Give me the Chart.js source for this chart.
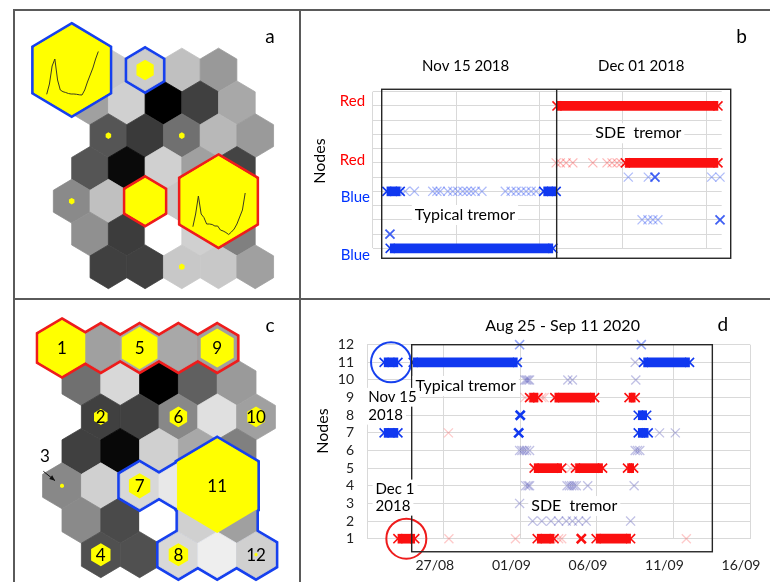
<!DOCTYPE html>
<html lang="en">
<head>
<meta charset="utf-8">
<title>SOM nodes of tremor spectra</title>
<script src="https://cdn.jsdelivr.net/npm/chart.js@4.4.1/dist/chart.umd.min.js"></script>
<style>
  html, body { margin: 0; padding: 0; background: #fff; }
  body { position: relative; width: 770px; height: 582px; overflow: hidden; }
  canvas { position: absolute; }
  .rule { position: absolute; background: #5a5a5a; }
</style>
</head>
<body>
<div class="rule" style="left:13px;top:9px;width:757px;height:2px"></div>
<div class="rule" style="left:13px;top:9px;width:2px;height:573px"></div>
<div class="rule" style="left:299px;top:9px;width:2px;height:573px"></div>
<div class="rule" style="left:13px;top:298px;width:757px;height:2px"></div>
<canvas id="somA" width="284" height="287" style="left:15px;top:11px"></canvas>
<canvas id="nodesB" width="469" height="287" style="left:301px;top:11px"></canvas>
<canvas id="somC" width="284" height="282" style="left:15px;top:300px"></canvas>
<canvas id="nodesD" width="471" height="282" style="left:301px;top:300px"></canvas>
<script>
const FONT = 'Lato, "Open Sans", sans-serif';
const YELLOW = '#ffff00', BLUE = '#1038f0', RED = '#fb0f0f', GRID = '#d9d9d9';
const OUTLINE_BLUE = '#1640ee', OUTLINE_RED = '#ee1c1c';

// ---------- SOM maps (panels a and c): 7 rows x 5 columns ----------
const rowShift = [0, 0.5, 1, 0.5, 0, 0.5, 1];   // row offsets, in cell widths

// grey level of every node (0 = black, 255 = white)
const aShade = [
  [200, 200, 204, 192, 153],
  [160, 208,   0,  64, 168],
  [ 85,  58, 112, 184, 154],
  [ 85,  10, 208, 160,  68],
  [138, 192, 200, 200, 170],
  [144,  60, 255, 208, 128],
  [ 64,  64, 200, 200, 160]
];
const cShade = [
  [170, 160, 170, 168, 160],
  [112, 216,   0,  96, 154],
  [ 64,  64, 136, 224, 160],
  [ 64,   8, 208, 168, 128],
  [136, 208, 216, 232, 180],
  [138,  74, 255, 208, 160],
  [ 80,  80, 216, 238, 208]
];

// hits per node: [row, col, relative hexagon size]
const aHits = [[0, 0, 2.05], [0, 2, 0.47], [2, 0, 0.15], [2, 2, 0.15], [4, 0, 0.15], [6, 2, 0.15], [4, 2, 1.05], [4, 4, 2.05]];
const cHits = [[0, 0, 1.2], [0, 2, 0.92], [0, 4, 0.85], [2, 0, 0.35], [2, 2, 0.45], [2, 4, 0.45], [4, 0, 0.1], [4, 2, 0.55], [4, 4, 2.05], [6, 0, 0.5], [6, 2, 0.5], [6, 4, 0.08]];

// outlined node sets: [row, col, relative size]
const aBlueNodes = [[0, 0, 2.05], [0, 2, 0.95]];
const aRedNodes = [[4, 2, 1.05], [4, 4, 2.05]];
const cRedNodes = [[0, 0, 1.2], [0, 1, 1], [0, 2, 1], [0, 3, 1], [0, 4, 1]];
const cBlueNodes = [[4, 2, 1], [4, 3, 1], [4, 4, 2.05], [5, 3, 1], [5, 4, 1], [6, 2, 1], [6, 3, 1], [6, 4, 1]];

// node numbers on map c: [row, col, name]
const cNodeNames = [[0, 0, '1'], [2, 0, '2'], [0, 2, '5'], [2, 2, '6'], [4, 2, '7'], [6, 2, '8'],
                    [0, 4, '9'], [2, 4, '10'], [4, 4, '11'], [6, 4, '12'], [6, 0, '4']];

// mean spectra of the two highlighted nodes (amplitude per frequency bin)
const blueSpectrum = [1.7, 12, 30, 37, 16, 6, 4.3, 3.5, 2.5, 2, 2, 1.7, 1.2, 1, 6, 14, 21, 28, 37, 44.5];
const redSpectrum = [9.3, 22, 40, 22, 18.5, 12, 12, 11.5, 10, 10, 6, 5, 3.5, 1.5, 4, 7, 12, 19, 26, 43];

function hexPath(ctx, cx, cy, W, S, k) {
  const hw = W / 2 * k, t = 2 * S / 3 * k, m = S / 3 * k;
  ctx.moveTo(cx, cy - t);
  ctx.lineTo(cx + hw, cy - m);
  ctx.lineTo(cx + hw, cy + m);
  ctx.lineTo(cx, cy + t);
  ctx.lineTo(cx - hw, cy + m);
  ctx.lineTo(cx - hw, cy - m);
  ctx.closePath();
}
const grey = g => `rgb(${g},${g},${g})`;

const somGrid = {
  id: 'somGrid',
  beforeDatasetsDraw(chart, args, o) {
    const { ctx } = chart, xs = chart.scales.x, ys = chart.scales.y;
    const W = xs.getPixelForValue(1) - xs.getPixelForValue(0);
    const S = ys.getPixelForValue(1) - ys.getPixelForValue(0);
    const at = (r, c) => [xs.getPixelForValue(rowShift[r] + c), ys.getPixelForValue(r)];
    const hex = (r, c, k) => { const [cx, cy] = at(r, c); ctx.beginPath(); hexPath(ctx, cx, cy, W, S, k); };
    ctx.save();
    ctx.lineJoin = 'miter';
    // map cells
    o.shade.forEach((row, r) => row.forEach((g, c) => {
      hex(r, c, 1);
      ctx.fillStyle = ctx.strokeStyle = grey(g);
      ctx.lineWidth = 0.8;
      ctx.fill(); ctx.stroke();
    }));
    // outlined node sets: wide stroke, then refill so only the outer border stays
    for (const grp of o.groups) {
      ctx.lineWidth = 2 * grp.width;
      ctx.strokeStyle = grp.color;
      grp.nodes.forEach(([r, c, k]) => { hex(r, c, k); ctx.stroke(); });
      grp.nodes.forEach(([r, c, k]) => {
        hex(r, c, k);
        ctx.fillStyle = ctx.strokeStyle = k > 1 ? YELLOW : grey(o.shade[r][c]);
        ctx.lineWidth = 0.8;
        ctx.fill(); ctx.stroke();
      });
    }
    // hit hexagons
    ctx.fillStyle = YELLOW;
    o.hits.forEach(([r, c, k]) => { hex(r, c, k); ctx.fill(); });
    // spectra inside nodes
    for (const sp of o.spectra || []) {
      const [cx, cy] = at(sp.node[0], sp.node[1]);
      const n = sp.values.length;
      ctx.beginPath();
      sp.values.forEach((v, i) => {
        const px = cx + (sp.x0 + sp.span * i / (n - 1)) * W;
        const py = cy + sp.base * S - v * S / 32.8;
        i ? ctx.lineTo(px, py) : ctx.moveTo(px, py);
      });
      ctx.strokeStyle = '#3b3b22';
      ctx.lineWidth = 1;
      ctx.lineJoin = 'round';
      ctx.stroke();
    }
    // node names
    ctx.fillStyle = '#000';
    ctx.font = `17px ${FONT}`;
    ctx.textAlign = 'center';
    ctx.textBaseline = 'middle';
    for (const [r, c, name] of o.names || []) {
      const [cx, cy] = at(r, c);
      ctx.fillText(name, cx, cy + 1);
    }
    // arrows
    for (const a of o.arrows || []) {
      const x1 = xs.getPixelForValue(a[0]), y1 = ys.getPixelForValue(a[1]);
      const x2 = xs.getPixelForValue(a[2]), y2 = ys.getPixelForValue(a[3]);
      const ang = Math.atan2(y2 - y1, x2 - x1);
      ctx.strokeStyle = ctx.fillStyle = '#111';
      ctx.lineWidth = 1;
      ctx.beginPath(); ctx.moveTo(x1, y1); ctx.lineTo(x2, y2); ctx.stroke();
      ctx.beginPath();
      ctx.moveTo(x2, y2);
      ctx.lineTo(x2 - 6 * Math.cos(ang - 0.4), y2 - 6 * Math.sin(ang - 0.4));
      ctx.lineTo(x2 - 6 * Math.cos(ang + 0.4), y2 - 6 * Math.sin(ang + 0.4));
      ctx.closePath(); ctx.fill();
    }
    ctx.restore();
  }
};

// text placed in data coordinates
const notes = {
  id: 'notes',
  afterDraw(chart, args, o) {
    const { ctx } = chart, xs = chart.scales.x, ys = chart.scales.y;
    for (const n of o.items || []) {
      const px = xs.getPixelForValue(n.x), py = ys.getPixelForValue(n.y);
      ctx.save();
      ctx.translate(px, py);
      if (n.rotate) ctx.rotate(n.rotate);
      ctx.font = `${n.size}px ${FONT}`;
      ctx.textAlign = n.align || 'center';
      ctx.textBaseline = 'middle';
      if (n.bg) {
        const w = ctx.measureText(n.text).width, h = n.size * 1.25;
        const x0 = n.align === 'left' ? -3 : n.align === 'right' ? -w - 3 : -w / 2 - 3;
        ctx.fillStyle = '#fff';
        ctx.fillRect(x0, -h / 2, w + 6, h);
      }
      ctx.fillStyle = n.color || '#000';
      ctx.fillText(n.text, 0, 0);
      ctx.restore();
    }
  }
};

// rectangles and rules drawn in data coordinates
const frames = {
  id: 'frames',
  afterDatasetsDraw(chart, args, o) {
    const { ctx } = chart, xs = chart.scales.x, ys = chart.scales.y;
    ctx.save();
    ctx.strokeStyle = '#262626';
    ctx.lineWidth = 1.4;
    for (const [xa, xb, ya, yb] of o.rects || []) {
      const x1 = xs.getPixelForValue(xa), x2 = xs.getPixelForValue(xb);
      const y1 = ys.getPixelForValue(yb), y2 = ys.getPixelForValue(ya);
      ctx.strokeRect(x1, y1, x2 - x1, y2 - y1);
    }
    for (const [xv, ya, yb] of o.rules || []) {
      const x = xs.getPixelForValue(xv);
      ctx.beginPath();
      ctx.moveTo(x, ys.getPixelForValue(ya));
      ctx.lineTo(x, ys.getPixelForValue(yb));
      ctx.stroke();
    }
    ctx.restore();
  }
};

function somChart(id, geo, som, items) {
  const canvas = document.getElementById(id);
  const cells = [];
  for (let r = 0; r < 7; r++) for (let c = 0; c < 5; c++) cells.push({ x: rowShift[r] + c, y: r });
  return new Chart(canvas, {
    type: 'scatter',
    data: { datasets: [{ data: cells, pointRadius: 0, pointHoverRadius: 0 }] },
    options: {
      responsive: false, animation: false, events: [],
      layout: { padding: 0 },
      scales: {
        x: { display: false, min: -geo.ox / geo.w, max: (canvas.width - geo.ox) / geo.w },
        y: { display: false, reverse: true, min: -geo.oy / geo.s, max: (canvas.height - geo.oy) / geo.s }
      },
      plugins: { legend: { display: false }, tooltip: { enabled: false }, somGrid: som, notes: { items } }
    },
    plugins: [somGrid, notes]
  });
}

somChart('somA', { ox: 56.7, oy: 59, w: 36.7, s: 32.8 }, {
  shade: aShade,
  hits: aHits,
  groups: [{ color: OUTLINE_BLUE, width: 3, nodes: aBlueNodes }, { color: OUTLINE_RED, width: 3, nodes: aRedNodes }],
  spectra: [
    { node: [0, 0], values: blueSpectrum, x0: -0.681, span: 1.406, base: 0.793 },
    { node: [4, 4], values: redSpectrum, x0: -0.698, span: 1.425, base: 1.061 }
  ]
}, [{ text: 'a', x: 5.40, y: -1.0, size: 19 }]);

somChart('somC', { ox: 47, oy: 48, w: 38.8, s: 34.45 }, {
  shade: cShade,
  hits: cHits,
  groups: [{ color: OUTLINE_RED, width: 3, nodes: cRedNodes }, { color: OUTLINE_BLUE, width: 3, nodes: cBlueNodes }],
  names: cNodeNames,
  arrows: [[-0.48, 3.58, -0.18, 3.85]]
}, [{ text: 'c', x: 5.36, y: -0.64, size: 19 }, { text: '3', x: -0.44, y: 3.16, size: 17 }]);

// ---------- node activity charts (panels b and d) ----------
const CROSS = 6.4;   // crossRot radius -> 9 px wide marks

function runBars(runs, color) {
  return {
    type: 'bar', indexAxis: 'y', grouped: false, barThickness: 9, clip: false,
    data: runs.map(([n, a, b]) => ({ y: n, x: [a, b] })),
    backgroundColor: color, borderWidth: 0, order: 3
  };
}
function runEnds(runs, color) {
  return {
    type: 'scatter', clip: false, order: 2,
    data: runs.flatMap(([n, a, b]) => [{ x: a, y: n }, { x: b, y: n }]),
    pointStyle: 'crossRot', pointRadius: CROSS, pointHoverRadius: CROSS,
    pointBorderColor: color, pointBorderWidth: 1.6, pointBackgroundColor: 'transparent'
  };
}
function marks(list, color, width) {
  return {
    type: 'scatter', clip: false, order: 1,
    data: list.map(([n, t]) => ({ x: t, y: n })),
    pointStyle: 'crossRot', pointRadius: CROSS, pointHoverRadius: CROSS,
    pointBorderColor: color, pointBorderWidth: width, pointBackgroundColor: 'transparent'
  };
}
const nodeTicks = [1, 2, 3, 4, 5, 6, 7, 8, 9, 10, 11, 12];

// panel b: two reference days, time in grid units
const bDays = ['Nov 15 2018', 'Dec 01 2018'];
const bNodeLabels = ['Red', 'Red', 'Blue', 'Blue'];
const bTimeTicks = [0, 1, 2, 3, 4];
// continuous detections: [node, first, last]
const bBlueRuns = [[1, 0.21, 2.16], [5, 0.17, 0.33], [5, 2.05, 2.2]];
const bRedRuns = [[11, 2.21, 4.14], [7, 3.03, 4.14]];
// single detections: [node, time]
const bBlueStrong = [[2, 0.207], [3, 4.165], [6, 3.385]];
const bBlueWeak = [[5, 0.39], [5, 0.5], [5, 0.72], [5, 0.77], [5, 0.81], [5, 0.9], [5, 0.96], [5, 1.02], [5, 1.08],
  [5, 1.13], [5, 1.18], [5, 1.23], [5, 1.31], [5, 1.59], [5, 1.66], [5, 1.72], [5, 1.78], [5, 1.84], [5, 1.9], [5, 1.96],
  [6, 3.065], [6, 3.305], [6, 4.065], [6, 4.165], [3, 3.23], [3, 3.3], [3, 3.36], [3, 3.42]];
const bRedWeak = [[7, 2.2], [7, 2.25], [7, 2.32], [7, 2.4], [7, 2.64], [7, 2.81], [7, 2.87], [7, 2.93], [7, 2.98]];

new Chart(document.getElementById('nodesB'), {
  type: 'scatter',
  data: {
    datasets: [
      runBars(bBlueRuns, BLUE), runBars(bRedRuns, RED),
      runEnds(bBlueRuns, BLUE), runEnds(bRedRuns, RED),
      marks(bBlueWeak, 'rgba(16,56,240,0.33)', 1.3),
      marks(bRedWeak, 'rgba(251,15,15,0.3)', 1.3),
      marks(bBlueStrong, 'rgba(16,56,240,0.8)', 1.8)
    ]
  },
  options: {
    responsive: false, animation: false, events: [],
    layout: { padding: { left: 71.7, top: 80.7, right: 48.3, bottom: 49.7 } },
    scales: {
      x: {
        type: 'linear', min: 0, max: 4.185, offset: false,
        afterBuildTicks: s => { s.ticks = bTimeTicks.map(v => ({ value: v })); },
        ticks: { display: false }, grid: { color: GRID, drawTicks: false, offset: false }, border: { display: false },
        afterFit: s => { s.height = 0; s.paddingLeft = s.paddingRight = 0; }
      },
      y: {
        type: 'linear', min: 1, max: 12, offset: false,
        afterBuildTicks: s => { s.ticks = nodeTicks.map(v => ({ value: v })); },
        ticks: { display: false }, grid: { color: GRID, drawTicks: false, offset: false }, border: { display: false },
        afterFit: s => { s.width = 0; s.paddingTop = s.paddingBottom = 0; }
      }
    },
    plugins: {
      legend: { display: false }, tooltip: { enabled: false },
      frames: { rects: [[0.108, 4.293, 0.30, 12.17]], rules: [[2.206, 0.30, 12.17]] },
      notes: {
        items: [
          { text: bDays[0], x: 1.115, y: 13.81, size: 15 },
          { text: bDays[1], x: 3.22, y: 13.81, size: 15 },
          { text: 'b', x: 4.424, y: 15.87, size: 19 },
          { text: 'Nodes', x: -0.632, y: 7.13, size: 16, rotate: -Math.PI / 2 },
          { text: 'SDE  tremor', x: 3.185, y: 9.08, size: 16, bg: true },
          { text: 'Typical tremor', x: 1.106, y: 3.34, size: 16, bg: true },
          { text: bNodeLabels[0], x: -0.092, y: 11.35, size: 15, align: 'right', color: '#ff0000' },
          { text: bNodeLabels[1], x: -0.092, y: 7.2, size: 15, align: 'right', color: '#ff0000' },
          { text: bNodeLabels[2], x: -0.032, y: 4.6, size: 15, align: 'right', color: '#0033ff' },
          { text: bNodeLabels[3], x: -0.032, y: 0.53, size: 15, align: 'right', color: '#0033ff' }
        ]
      }
    }
  },
  plugins: [frames, notes]
});

// panel d: Aug 25 - Sep 11 2020; x = day counted from Aug 1 (Sep d = 31 + d)
const dDateTicks = [22, 27, 32, 37, 42, 47];
const dDateLabels = ['', '27/08', '01/09', '06/09', '11/09', '16/09'];
// reference days
const dNov15Runs = [[11, 23.1, 24.0], [7, 23.1, 24.0]];
const dDec1Runs = [[1, 24.0, 25.1]];
// continuous detections: [node, first day, last day]
const dBlueRuns = [[11, 25.0, 31.8], [11, 40.05, 43.05], [8, 39.7, 40.25], [7, 39.7, 40.35]];
const dRedRuns = [[9, 32.6, 33.15], [9, 34.25, 36.85], [9, 39.1, 39.5], [5, 32.9, 34.7], [5, 35.6, 37.37],
  [5, 39.0, 39.4], [1, 33.1, 34.2], [1, 36.95, 39.2]];
// single detections: [node, day]
const dBlueStrong = [[8, 31.99], [7, 31.89]];
const dBlueMid = [[12, 31.95], [12, 39.9]];
const dBlueWeak = [[10, 32.3], [10, 32.4], [10, 32.5], [10, 32.6], [10, 35.1], [10, 35.4], [10, 39.54],
  [6, 31.95], [6, 32.1], [6, 32.25], [6, 32.4], [6, 32.6], [6, 39.5], [6, 39.65], [6, 39.8],
  [4, 32.35], [4, 32.5], [4, 32.6], [4, 35.05], [4, 35.2], [4, 35.35], [4, 35.5], [4, 35.65], [4, 36.4], [4, 39.43],
  [3, 31.95], [2, 32.8], [2, 33.4], [2, 34.0], [2, 34.5], [2, 35.0], [2, 35.4], [2, 35.8], [2, 36.3], [2, 39.2],
  [7, 41.09], [7, 42.12], [11, 39.5]];
const dRedStrong = [[1, 35.98]];
const dRedWeak = [[1, 27.33], [1, 31.68], [1, 34.5], [1, 34.7], [1, 42.84], [7, 27.3], [9, 32.3], [9, 33.4], [9, 33.55], [5, 35.3]];

const mid = run => ({ x: (run[1] + run[2]) / 2, y: run[0] });
const ring = (pt, color) => ({
  type: 'scatter', clip: false, order: 0, data: [pt],
  pointStyle: 'circle', pointRadius: 20, pointHoverRadius: 20,
  pointBorderColor: color, pointBorderWidth: 2, pointBackgroundColor: 'rgba(0,0,0,0)'
});

new Chart(document.getElementById('nodesD'), {
  type: 'scatter',
  data: {
    datasets: [
      runBars(dNov15Runs.concat(dBlueRuns), BLUE), runBars(dDec1Runs.concat(dRedRuns), RED),
      runEnds(dNov15Runs.concat(dBlueRuns), BLUE), runEnds(dDec1Runs.concat(dRedRuns), RED),
      marks(dBlueWeak, 'rgba(50,50,170,0.3)', 1.3),
      marks(dRedWeak, 'rgba(251,15,15,0.22)', 1.3),
      marks(dBlueMid, 'rgba(16,56,240,0.45)', 1.6),
      marks(dBlueStrong, BLUE, 2.6),
      marks(dRedStrong, RED, 2.6),
      ring(mid(dNov15Runs[0]), '#1640ee'),
      ring(mid(dDec1Runs[0]), '#ee1c1c')
    ]
  },
  options: {
    responsive: false, animation: false, events: [],
    layout: { padding: { left: 0, top: 44.7, right: 1.3, bottom: 0 } },
    scales: {
      x: {
        type: 'linear', min: 22, max: 47, offset: false,
        afterBuildTicks: s => { s.ticks = dDateTicks.map(v => ({ value: v })); },
        ticks: {
          callback: (v, i) => dDateLabels[i], labelOffset: -9, padding: 18, maxRotation: 0, autoSkip: false,
          color: '#222', font: { family: FONT, size: 14 }
        },
        grid: { color: GRID, drawTicks: false, offset: false }, border: { display: false },
        afterFit: s => { s.height = 43.3; s.paddingLeft = s.paddingRight = 0; }
      },
      y: {
        type: 'linear', min: 1, max: 12, offset: false,
        afterBuildTicks: s => { s.ticks = nodeTicks.map(v => ({ value: v })); },
        ticks: { padding: 13.3, autoSkip: false, color: '#222', font: { family: FONT, size: 14 } },
        grid: { color: GRID, drawTicks: false, offset: false }, border: { display: false },
        afterFit: s => { s.width = 66.3; s.paddingTop = s.paddingBottom = 0; }
      }
    },
    plugins: {
      legend: { display: false }, tooltip: { enabled: false },
      frames: { rects: [[24.9, 44.54, 0.26, 12.0]] },
      notes: {
        items: [
          { text: 'Aug 25 - Sep 11 2020', x: 34.76, y: 13.06, size: 16 },
          { text: 'd', x: 45.23, y: 13.1, size: 19 },
          { text: 'Nodes', x: 19.07, y: 7.1, size: 16, rotate: -Math.PI / 2 },
          { text: 'Typical tremor', x: 25.15, y: 9.66, size: 16, align: 'left', bg: true },
          { text: 'SDE  tremor', x: 32.71, y: 2.85, size: 16, align: 'left', bg: true },
          { text: 'Nov 15', x: 22.06, y: 9.02, size: 15, align: 'left', bg: true },
          { text: '2018', x: 22.06, y: 8.0, size: 15, align: 'left', bg: true },
          { text: 'Dec 1', x: 22.54, y: 3.82, size: 15, align: 'left', bg: true },
          { text: '2018', x: 22.54, y: 2.84, size: 15, align: 'left', bg: true }
        ]
      }
    }
  },
  plugins: [frames, notes]
});
</script>
</body>
</html>
